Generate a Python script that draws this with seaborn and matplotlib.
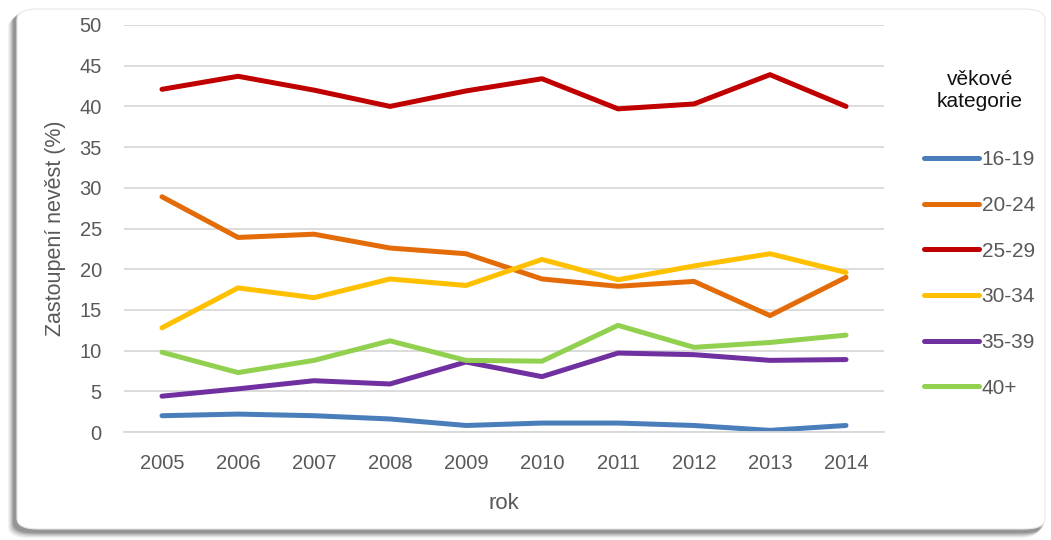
import matplotlib
matplotlib.use("Agg")
import matplotlib.pyplot as plt
from matplotlib.patches import FancyBboxPatch
import seaborn as sns
import pandas as pd

years = [2005, 2006, 2007, 2008, 2009, 2010, 2011, 2012, 2013, 2014]
age_groups = ["16-19", "20-24", "25-29", "30-34", "35-39", "40+"]
v_16_19 = [2.0, 2.2, 2.0, 1.6, 0.8, 1.1, 1.1, 0.8, 0.2, 0.8]
v_20_24 = [28.9, 23.9, 24.3, 22.6, 21.9, 18.8, 17.9, 18.5, 14.3, 19.0]
v_25_29 = [42.1, 43.7, 42.0, 40.0, 41.9, 43.4, 39.7, 40.3, 43.9, 40.0]
v_30_34 = [12.8, 17.7, 16.5, 18.8, 18.0, 21.2, 18.7, 20.4, 21.9, 19.6]
v_35_39 = [4.4, 5.3, 6.3, 5.9, 8.6, 6.8, 9.7, 9.5, 8.8, 8.9]
v_40 = [9.8, 7.3, 8.8, 11.2, 8.8, 8.7, 13.1, 10.4, 11.0, 11.9]
colors = ["#4A7EBB", "#E36C09", "#C00000", "#FFC000", "#7030A0", "#92D050"]

series = [v_16_19, v_20_24, v_25_29, v_30_34, v_35_39, v_40]
rows = []
for g, vals in zip(age_groups, series):
    for y, v in zip(years, vals):
        rows.append({"rok": y, "hodnota": v, "skupina": g})
df = pd.DataFrame(rows)

sns.set_theme(style="white")
plt.rcParams["font.family"] = ["Liberation Sans", "DejaVu Sans"]

fig = plt.figure(figsize=(10.51, 5.4), dpi=100)
fig.patch.set_facecolor("white")

# shadowed rounded frame
for i, a in enumerate([0.05, 0.07, 0.09, 0.12, 0.16]):
    off = (5 - i) * 1.2
    sh = FancyBboxPatch((14 / 1051 - off / 1051, 10 / 540 - off / 540 - 0.004),
                        (1031) / 1051, (522) / 540,
                        boxstyle="round,pad=0,rounding_size=0.02",
                        transform=fig.transFigure, facecolor="black", alpha=a,
                        edgecolor="none", zorder=0)
    fig.patches.append(sh)
frame = FancyBboxPatch((17 / 1051, 11 / 540), 1028 / 1051, 520 / 540,
                       boxstyle="round,pad=0,rounding_size=0.02",
                       transform=fig.transFigure, facecolor="white",
                       edgecolor="#e8e8e8", linewidth=0.8, zorder=1)
fig.patches.append(frame)

ax = fig.add_axes([124 / 1051, 108 / 540, 760 / 1051, 407 / 540])
ax.set_facecolor("none")
ax.set_zorder(2)

sns.lineplot(data=df, x="rok", y="hodnota", hue="skupina", hue_order=age_groups,
             palette=colors, linewidth=3.6, ax=ax, legend=True)
for ln in ax.lines:
    ln.set_solid_capstyle("round")
    ln.set_solid_joinstyle("round")

ax.set_xlim(2004.5, 2014.5)
ax.set_ylim(0, 50)
ax.set_xticks(years)
ax.set_yticks(range(0, 51, 5))
ax.yaxis.grid(True, color="#d9d9d9", linewidth=1.3)
ax.xaxis.grid(False)
for s in ax.spines.values():
    s.set_visible(False)
ax.spines["bottom"].set_visible(True)
ax.spines["bottom"].set_color("#d9d9d9")
ax.spines["bottom"].set_linewidth(1.3)
ax.tick_params(axis="both", labelsize=14.5, colors="#595959", length=0)
ax.tick_params(axis="x", pad=16)
ax.tick_params(axis="y", pad=16)
ax.set_xlabel("rok", fontsize=16, color="#595959", labelpad=14)
ax.set_ylabel("Zastoupení nevěst (%)", fontsize=15.5, color="#595959", labelpad=10)

handles, labels = ax.get_legend_handles_labels()
ax.get_legend().remove()
leg = fig.legend(handles, labels, title="věkové\nkategorie",
                 loc="upper left", bbox_to_anchor=(916 / 1051, 1 - 62 / 540),
                 frameon=False, fontsize=15, title_fontsize=15,
                 handlelength=2.6, handletextpad=0.15, labelspacing=1.28,
                 borderaxespad=0)
leg.get_title().set_multialignment("center")
leg.get_title().set_color("#111111")
for t in leg.get_texts():
    t.set_color("#595959")
for h in leg.get_lines():
    h.set_linewidth(3.6)
    h.set_solid_capstyle("round")
leg._legend_box.sep = 28

fig.savefig("out.png", dpi=100)
